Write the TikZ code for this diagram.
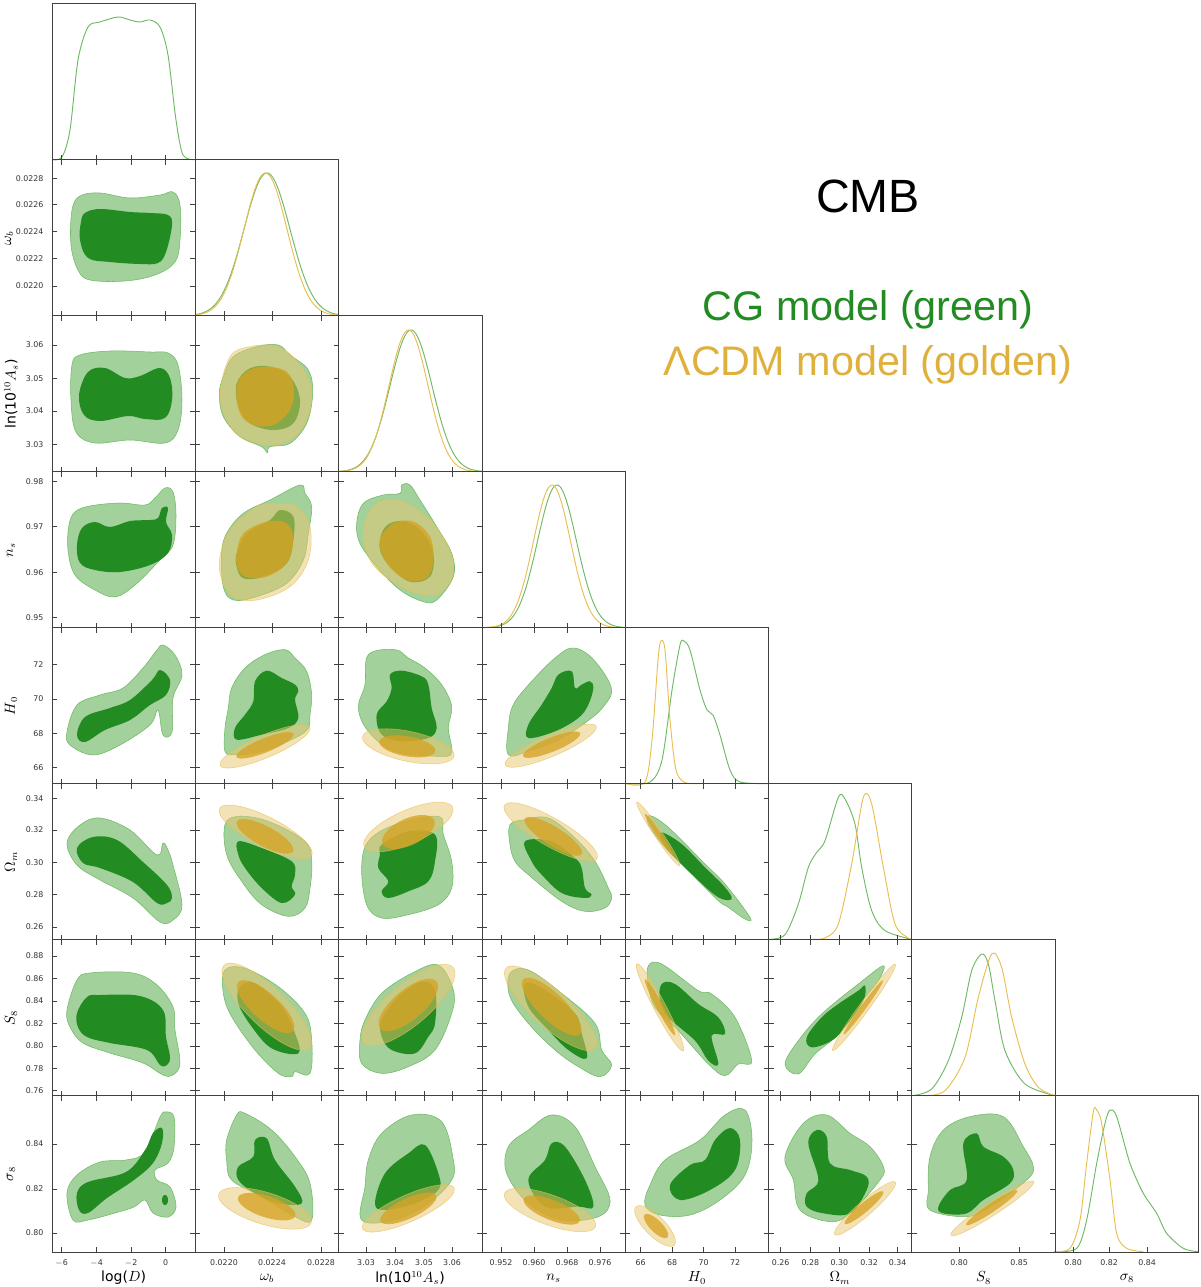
\documentclass[tikz,border=0pt]{standalone}
\usepackage{fontspec}
\setmainfont{DejaVu Sans}
\newfontfamily\titlefont{Liberation Sans}
\begin{document}
\definecolor{gL}{RGB}{163,209,155}
\definecolor{gD}{RGB}{34,139,34}
\definecolor{gC}{RGB}{110,185,100}
\definecolor{yL}{RGB}{232,198,110}
\definecolor{yD}{RGB}{214,164,38}
\definecolor{yC}{RGB}{232,190,80}
\newcommand\blob[2]{\path[#1] plot[smooth cycle, tension=0.6] coordinates {#2};}
\newcommand\Elp[6]{\path[#1] plot[domain=0:360,samples=60,variable=\t] ({#2+#4*cos(\t)*cos(#6)+#5*sin(\t)*sin(#6)},{#3-#4*cos(\t)*sin(#6)+#5*sin(\t)*cos(#6)}) -- cycle;}
\def\LX{52,195.3,338.6,482,625.2,768.5,911.8,1055.1}
\def\TY{3,159.7,315.7,471.7,627.7,783.6,939.7,1095.5,1252}
\newcommand\colticks[2]{\foreach \r in {#1,...,7}{\pgfmathsetmacro\tp{{\TY}[\r]}\pgfmathsetmacro\bt{{\TY}[\r+1]}\foreach \x in {#2}{\draw[tk] (\x,\bt)--++(0,-5); \ifnum\r>#1 \draw[tk] (\x,\tp)--++(0,5);\fi}}}
\newcommand\rowticks[2]{\foreach \c in {0,...,#1}{\pgfmathsetmacro\lf{{\LX}[\c]}\foreach \y in {#2}{\draw[tk] (\lf,\y)--++(5,0); \draw[tk] (\lf+143.3,\y)--++(-5,0);}}}
\begin{tikzpicture}[x=0.75pt,y=-0.75pt,
  go/.style={fill=gL, draw=gC, line width=0.4pt},
  gi/.style={fill=gD},
  yo/.style={fill=yL, fill opacity=0.5, draw=yC, draw opacity=0.7, line width=0.4pt},
  yi/.style={fill=yD, fill opacity=0.8},
  gline/.style={draw=gC, line width=0.7pt},
  yline/.style={draw=yC, line width=0.7pt},
  tk/.style={draw=black!75, line width=0.5pt},
  frame/.style={draw=black!75, line width=0.6pt},
  tl/.style={font=\fontsize{5.9}{7}\selectfont, text=black!80},
  al/.style={font=\fontsize{10.5}{12}\selectfont}]
\useasboundingbox (0,0) rectangle (1200,1287);

% ===== column 0 (log D) =====
\blob{go}{(80,196)(100,193)(130,198)(160,195)(173,192)(180,205)(180,240)(175,262)(155,275)(125,281)(90,280)(78,270)(71,245)(72,210)}
\blob{gi}{(85,213)(100,209)(130,212)(150,213)(168,215)(172,225)(166,252)(158,263)(140,264)(110,262)(88,258)(80,240)(81,222)}
\blob{go}{(80,355)(110,351)(150,352)(168,353)(178,365)(182,400)(178,430)(165,443)(130,440)(95,443)(76,432)(71,400)(72,365)}
\blob{gi}{(88,372)(105,368)(125,378)(140,376)(160,368)(170,378)(172,400)(165,418)(145,419)(128,416)(100,421)(84,415)(79,395)}
\blob{go}{(75,512)(90,506)(120,503)(145,505)(155,498)(165,488)(173,492)(176,515)(173,545)(160,560)(135,585)(115,597)(95,590)(75,575)(68,550)(69,525)}
\blob{gi}{(82,528)(95,522)(110,527)(130,521)(150,520)(158,518)(162,508)(168,508)(166,522)(172,535)(168,553)(150,565)(120,572)(95,570)(80,563)(77,545)}
\blob{go}{(67,732)(77,705)(100,695)(123,688)(143,668)(157,650)(163,645)(175,655)(182,675)(173,698)(172,732)(163,735)(158,710)(150,725)(120,745)(93,755)(70,745)}
\blob{gi}{(77,735)(85,717)(110,708)(130,700)(152,680)(160,670)(170,680)(166,695)(150,705)(130,720)(105,730)(85,742)}
\blob{go}{(67,843)(80,825)(100,818)(130,830)(157,855)(163,843)(168,850)(173,865)(182,905)(173,920)(160,922)(133,898)(100,880)(77,865)}
\blob{gi}{(77,848)(93,837)(117,840)(143,862)(167,885)(172,898)(167,903)(157,903)(133,882)(100,868)(83,863)}
\blob{go}{(67,1010)(77,980)(90,973)(133,973)(157,985)(173,1007)(175,1030)(180,1063)(173,1075)(163,1075)(143,1063)(110,1053)(83,1043)(70,1027)}
\blob{gi}{(77,1013)(87,997)(100,995)(140,996)(163,1010)(166,1037)(170,1057)(167,1065)(160,1065)(147,1050)(110,1043)(87,1037)(78,1027)}
\blob{go}{(67,1193)(77,1175)(100,1162)(126,1160)(145,1152)(160,1117)(166,1112)(174,1117)(174,1147)(168,1163)(155,1170)(157,1180)(170,1187)(176,1207)(168,1217)(153,1213)(145,1200)(134,1207)(115,1213)(88,1220)(73,1220)}
\blob{gi}{(77,1193)(88,1182)(126,1172)(145,1150)(153,1133)(162,1128)(162,1143)(153,1163)(134,1180)(107,1198)(88,1213)(79,1210)}
\Elp{gi}{165}{1200}{3}{5}{0}

% ===== rows 2-3, cols 1-2 (zoom scope) =====
\begin{scope}[shift={(190,300)},scale=1/3]
\blob{go}{(100,230)(130,170)(200,140)(265,135)(300,165)(355,210)(368,280)(350,370)(300,430)(240,440)(232,458)(215,440)(150,410)(100,350)(88,280)}
\blob{gi}{(140,250)(180,205)(240,200)(300,230)(330,300)(310,370)(250,390)(180,370)(145,320)}
\blob{yo}{(90,280)(120,170)(180,140)(265,140)(330,195)(365,270)(350,360)(300,420)(230,435)(150,410)(110,360)}
\blob{yi}{(140,260)(170,215)(225,200)(290,215)(312,270)(300,330)(250,375)(190,375)(150,340)}
\blob{go}{(95,760)(110,700)(160,640)(240,600)(330,555)(345,580)(365,620)(355,700)(340,780)(290,850)(200,890)(130,900)(100,860)}
\blob{gi}{(140,760)(170,700)(240,660)(270,630)(310,650)(310,720)(290,790)(220,830)(160,835)(140,800)}
\blob{yo}{(90,770)(120,690)(200,620)(270,610)(320,620)(360,680)(355,780)(300,860)(200,900)(130,890)(95,840)}
\blob{yi}{(140,760)(160,700)(230,665)(290,670)(310,720)(290,790)(230,830)(165,830)(142,800)}
\blob{go}{(500,670)(520,610)(580,585)(630,580)(635,555)(660,555)(690,600)(740,680)(785,760)(790,830)(740,900)(700,905)(630,870)(560,800)(510,730)}
\blob{gi}{(575,700)(600,670)(650,665)(700,700)(730,760)(720,830)(660,845)(600,800)(570,750)}
\blob{yo}{(520,690)(560,610)(640,605)(720,660)(775,740)(790,820)(750,880)(680,880)(600,840)(540,780)}
\blob{yi}{(570,720)(610,670)(670,665)(720,710)(730,780)(710,835)(650,840)(590,790)}
\end{scope}

% ===== rows 4-5, cols 1-3 =====
\begin{scope}[shift={(195,628)},scale=1/3]
\blob{go}{(110,180)(150,120)(210,80)(270,65)(300,90)(335,130)(350,200)(345,260)(340,300)(300,330)(200,370)(120,380)(90,370)(90,300)(100,240)}
\blob{gi}{(180,160)(215,128)(260,150)(300,170)(310,190)(300,215)(310,270)(280,300)(200,320)(125,335)(120,300)(150,260)(175,220)}
\Elp{yo}{210}{355}{146}{34}{23}
\Elp{yi}{210}{352}{92}{21}{22}
\blob{go}{(520,80)(600,65)(640,90)(690,120)(740,170)(770,235)(760,300)(770,370)(740,385)(600,370)(520,310)(490,240)(510,170)}
\blob{gi}{(585,140)(620,128)(680,145)(700,170)(710,240)(725,300)(700,330)(620,340)(560,320)(545,260)(575,220)(590,180)}
\Elp{yo}{640}{355}{140}{45}{-12}
\Elp{yi}{637}{355}{85}{30}{-10}
\blob{go}{(955,230)(1010,160)(1080,90)(1130,60)(1180,80)(1230,140)(1250,190)(1230,230)(1190,270)(1100,330)(1000,370)(940,380)(940,300)}
\blob{gi}{(1000,290)(1040,230)(1070,180)(1090,140)(1130,130)(1140,180)(1160,170)(1185,160)(1195,180)(1180,230)(1150,270)(1080,310)(1000,330)}
\Elp{yo}{1067}{353}{148}{32}{23}
\Elp{yi}{1070}{350}{92}{21}{22}
% row 5
\blob{go}{(90,590)(130,565)(220,580)(330,640)(350,700)(345,780)(330,840)(280,865)(200,830)(140,760)(95,680)}
\blob{gi}{(130,640)(200,660)(290,700)(300,740)(290,775)(300,800)(260,825)(200,780)(150,720)(130,680)}
\Elp{yo}{212}{612}{155}{45}{-27}
\Elp{yi}{210}{625}{95}{30}{-28}
\blob{go}{(520,640)(600,590)(730,565)(745,620)(770,700)(770,780)(730,830)(640,860)(560,870)(515,830)(500,720)}
\blob{gi}{(560,650)(640,610)(720,620)(720,700)(700,760)(640,790)(580,810)(560,790)(580,760)(550,720)(555,680)}
\Elp{yo}{640}{597}{145}{50}{24}
\Elp{yi}{640}{612}{85}{40}{25}
\blob{go}{(945,590)(990,575)(1060,570)(1140,630)(1200,700)(1240,780)(1250,810)(1230,840)(1170,850)(1100,820)(1000,740)(960,700)(945,650)}
\blob{gi}{(990,640)(1070,640)(1140,690)(1160,720)(1170,780)(1190,800)(1170,810)(1100,795)(1040,740)(1010,700)}
\Elp{yo}{1067}{612}{160}{42}{-30}
\Elp{yi}{1075}{625}{100}{28}{-32}
\end{scope}

% ===== rows 6-7, cols 1-3 =====
\begin{scope}[shift={(195,940)},scale=1/3]
\blob{go}{(90,90)(150,85)(250,140)(330,220)(350,300)(345,400)(300,395)(290,410)(250,400)(180,330)(110,230)(85,160)}
\blob{gi}{(135,140)(180,130)(260,200)(300,280)(310,340)(230,325)(170,260)(130,190)}
\Elp{yo}{215}{200}{178}{58}{-44}
\Elp{yi}{212}{200}{110}{40}{-42}
\blob{go}{(510,240)(560,160)(650,100)(730,75)(775,150)(770,220)(720,330)(640,380)(560,400)(500,370)(495,300)}
\blob{gi}{(560,240)(610,170)(680,125)(720,150)(720,250)(700,290)(660,340)(590,330)(560,290)}
\Elp{yo}{640}{195}{175}{62}{40}
\Elp{yi}{640}{195}{110}{45}{40}
\blob{go}{(945,100)(1000,90)(1100,160)(1200,250)(1220,330)(1250,375)(1215,410)(1150,380)(1080,330)(1000,250)(945,170)}
\blob{gi}{(990,130)(1050,150)(1140,220)(1160,280)(1175,355)(1120,330)(1060,270)(1000,200)}
\Elp{yo}{1067}{205}{180}{55}{-42}
\Elp{yi}{1070}{200}{118}{40}{-44}
% row 7
\blob{go}{(95,600)(125,525)(150,520)(230,570)(300,650)(345,730)(350,840)(300,830)(200,770)(110,720)(95,660)}
\blob{gi}{(130,680)(175,650)(180,600)(215,595)(240,660)(300,740)(320,790)(250,790)(180,760)(130,720)}
\Elp{yo}{210}{805}{145}{48}{-17}
\Elp{yi}{215}{800}{90}{32}{-18}
\blob{go}{(520,660)(560,580)(650,525)(740,545)(775,660)(770,720)(700,790)(600,840)(500,840)(510,740)}
\blob{gi}{(540,790)(570,700)(640,640)(690,615)(730,700)(730,750)(660,790)(570,810)}
\Elp{yo}{640}{805}{150}{40}{24}
\Elp{yi}{640}{805}{92}{30}{25}
\blob{go}{(940,620)(1000,570)(1070,525)(1140,560)(1200,680)(1245,780)(1210,830)(1100,840)(1000,790)(935,700)}
\blob{gi}{(1000,720)(1050,660)(1070,610)(1110,620)(1170,720)(1195,800)(1150,800)(1050,800)}
\Elp{yo}{1065}{810}{145}{45}{-20}
\Elp{yi}{1070}{810}{90}{30}{-22}
\end{scope}

% ===== rows 5-6, cols 4-5 =====
\begin{scope}[shift={(625,784)},scale=1/3]
\blob{go}{(75,95)(130,130)(240,240)(300,300)(375,400)(360,405)(310,370)(280,350)(200,270)(120,190)(70,120)}
\blob{gi}{(110,145)(170,180)(240,250)(300,310)(320,345)(280,340)(210,280)(140,210)(110,170)}
\Elp{yo}{100}{150}{115}{12}{-56}
\Elp{yi}{102}{152}{76}{7}{-56}
\blob{go}{(70,545)(110,540)(220,620)(260,630)(330,700)(380,830)(340,840)(300,875)(250,840)(160,740)(90,670)(70,600)}
\blob{gi}{(110,600)(150,600)(220,660)(280,700)(300,750)(260,755)(280,840)(250,830)(210,770)(130,700)(105,650)}
\Elp{yo}{105}{670}{148}{18}{-62}
\Elp{yi}{105}{670}{95}{10}{-62}
\blob{go}{(480,840)(520,770)(590,690)(700,600)(775,545)(760,590)(720,640)(680,700)(630,760)(570,810)(520,870)}
\blob{gi}{(545,760)(590,700)(640,660)(700,620)(720,605)(715,650)(660,730)(620,770)(560,790)}
\Elp{yo}{717}{670}{160}{15}{54}
\Elp{yi}{715}{670}{100}{8}{54}
% diagonals 5,6
\draw[gline] plot[smooth] coordinates {(430,466)(480,452)(520,360)(550,250)(575,205)(600,170)(640,40)(660,45)(690,120)(710,250)(740,380)(780,440)(860,466)};
\draw[yline] plot[smooth] coordinates {(560,466)(600,462)(640,420)(680,240)(715,40)(740,60)(775,250)(810,420)(850,462)(860,466)};
\draw[gline] plot[smooth] coordinates {(862,935)(920,915)(970,830)(1010,700)(1040,560)(1070,510)(1090,540)(1110,650)(1140,800)(1200,900)(1290,935)};
\draw[yline] plot[smooth] coordinates {(900,935)(960,920)(1020,820)(1060,640)(1100,510)(1130,550)(1160,700)(1200,840)(1240,910)(1290,935)};
\end{scope}

% ===== row 7, cols 4-7 =====
\blob{go}{(650,1185)(665,1160)(700,1140)(725,1115)(745,1110)(752,1140)(745,1175)(720,1200)(690,1215)(660,1215)(645,1205)}
\blob{gi}{(670,1185)(690,1165)(705,1160)(715,1140)(730,1128)(740,1140)(735,1170)(710,1190)(680,1200)}
\Elp{yo}{655}{1226}{27}{10}{-45}
\Elp{yi}{656}{1226}{16}{6}{-45}
\begin{scope}[shift={(750,1080)},scale=1/3]
\blob{go}{(105,230)(160,130)(230,105)(300,160)(360,200)(400,260)(390,300)(300,400)(240,425)(150,390)(130,300)}
\blob{gi}{(170,340)(205,300)(175,190)(200,150)(230,170)(240,250)(300,270)(350,290)(350,330)(300,400)(220,400)(170,380)}
\Elp{yo}{345}{385}{120}{22}{41}
\Elp{yi}{342}{383}{75}{14}{40}
\blob{go}{(540,230)(580,150)(660,110)(760,110)(820,200)(850,260)(830,300)(720,380)(650,410)(540,390)(535,330)}
\blob{gi}{(565,380)(600,330)(650,300)(640,190)(680,160)(700,200)(760,230)(790,270)(780,310)(700,360)(650,400)(580,400)}
\Elp{yo}{727}{385}{148}{20}{33}
\Elp{yi}{725}{383}{92}{13}{34}
\draw[gline] plot[smooth] coordinates {(913,515)(980,505)(1010,420)(1040,250)(1065,130)(1080,90)(1100,110)(1140,250)(1180,340)(1220,400)(1250,460)(1300,505)(1345,515)};
\draw[yline] plot[smooth] coordinates {(913,515)(960,505)(990,420)(1010,250)(1030,95)(1040,90)(1055,130)(1080,300)(1100,460)(1130,505)(1180,515)};
\end{scope}

% ===== diagonals 0-4 =====
\draw[gline] plot[smooth] coordinates {(52,159.7)(62,157)(70,130)(78,60)(88,27)(100,22)(118,17)(130,20)(140,22)(150,20)(160,27)(168,55)(176,120)(183,155)(195,159.7)};
\draw[gline] plot[domain=195.3:338.6,samples=90] (\x,{315.7-142.7*exp(-((\x-267)^2)/(2*23^2))});
\draw[yline] plot[domain=195.3:338.6,samples=90] (\x,{315.7-142.7*exp(-((\x-265.5)^2)/(2*21.5^2))});
\draw[gline] plot[domain=338.6:482,samples=90] (\x,{471.7-141.7*exp(-((\x-411)^2)/(2*21^2))});
\draw[yline] plot[domain=338.6:482,samples=90] (\x,{471.7-141.7*exp(-((\x-408.5)^2)/(2*19.5^2))});
\draw[gline] plot[domain=482:625.2,samples=90] (\x,{627.7-142.7*exp(-((\x-557)^2)/(2*19.5^2))});
\draw[yline] plot[domain=482:625.2,samples=90] (\x,{627.7-142.7*exp(-((\x-552)^2)/(2*18.5^2))});
\draw[gline] plot[smooth] coordinates {(626,783.6)(650,782)(662,760)(672,690)(680,645)(684,641)(690,650)(700,690)(707,710)(713,715)(720,735)(730,770)(740,782)(768,783.6)};
\draw[yline] plot[smooth] coordinates {(626,783.6)(645,782)(652,740)(658,660)(661,641)(665,650)(670,720)(676,770)(685,782.5)(700,783.6)};

% ===== frames =====
\foreach \r in {0,...,7}{\foreach \c in {0,...,\r}{%
  \pgfmathsetmacro\lf{{\LX}[\c]}\pgfmathsetmacro\tp{{\TY}[\r]}\pgfmathsetmacro\bt{{\TY}[\r+1]}%
  \draw[frame] (\lf,\tp) rectangle (\lf+143.3,\bt);}}

% ===== ticks =====
\colticks{0}{61.5,96.5,131,165.7}
\colticks{1}{224,272,321}
\colticks{2}{366,395,424,452}
\colticks{3}{501,534,567,600}
\colticks{4}{640.5,672,703.5,735}
\colticks{5}{780.7,810.3,839.3,869,897.7}
\colticks{6}{959,1019}
\colticks{7}{1073,1109,1147}
\rowticks{0}{178.7,204.7,231.3,258.7,286}
\rowticks{1}{345,378.3,411,444.3}
\rowticks{2}{481.7,526.7,572.3,617.7}
\rowticks{3}{664.3,699,733.3,767.7}
\rowticks{4}{798.3,830,862.7,894.7,927}
\rowticks{5}{956,978.5,1001,1023.5,1046,1068.5,1090.7}
\rowticks{6}{1144,1189,1233}

% ===== tick labels =====
\foreach \x/\t in {61.5/$-$6,96.5/$-$4,131/$-$2,165.7/0,224/0.0220,272/0.0224,321/0.0228,366/3.03,395/3.04,424/3.05,452/3.06,501/0.952,534/0.960,567/0.968,600/0.976,640.5/66,672/68,703.5/70,735/72,780.7/0.26,810.3/0.28,839.3/0.30,869/0.32,897.7/0.34,959/0.80,1019/0.85,1073/0.80,1109/0.82,1147/0.84}
  \node[tl,anchor=north] at (\x,1255) {\t};
\foreach \y/\t in {178.7/0.0228,204.7/0.0226,231.3/0.0224,258.7/0.0222,286/0.0220,345/3.06,378.3/3.05,411/3.04,444.3/3.03,481.7/0.98,526.7/0.97,572.3/0.96,617.7/0.95,664.3/72,699/70,733.3/68,767.7/66,798.3/0.34,830/0.32,862.7/0.30,894.7/0.28,927/0.26,956/0.88,978.5/0.86,1001/0.84,1023.5/0.82,1046/0.80,1068.5/0.78,1090.7/0.76,1144/0.84,1189/0.82,1233/0.80}
  \node[tl,anchor=east] at (48,\y) {\t};

% ===== axis labels =====
\node[al] (xl0) at (123.6,1278) {log($D$)};
\node[al] (xl1) at (267,1278) {$\omega_b$};
\node[al] (xl2) at (410,1278) {ln(10$^{10}A_s$)};
\node[al] (xl3) at (553.6,1278) {$n_s$};
\node[al] (xl4) at (697,1278) {$H_0$};
\node[al] (xl5) at (840,1278) {$\Omega_m$};
\node[al] (xl6) at (983.5,1278) {$S_8$};
\node[al] (xl7) at (1127,1278) {$\sigma_8$};
\node[al,rotate=90] (yl1) at (9,238) {$\omega_b$};
\node[al,rotate=90] (yl2) at (11,394) {ln(10$^{10}A_s$)};
\node[al,rotate=90] (yl3) at (11,550) {$n_s$};
\node[al,rotate=90] (yl4) at (11,706) {$H_0$};
\node[al,rotate=90] (yl5) at (11,862) {$\Omega_m$};
\node[al,rotate=90] (yl6) at (11,1018) {$S_8$};
\node[al,rotate=90] (yl7) at (11,1174) {$\sigma_8$};

% ===== titles =====
\node[font=\titlefont\fontsize{35}{40}\selectfont] (cmb) at (868,196) {CMB};
\node[font=\titlefont\fontsize{31}{36}\selectfont, text=gD] (cg) at (868,310) {CG model (green)};
\node[font=\titlefont\fontsize{31}{36}\selectfont, text={rgb,255:red,224;green,176;blue,60}] (lcdm) at (868,365) {ΛCDM model (golden)};
\end{tikzpicture}
\end{document}
